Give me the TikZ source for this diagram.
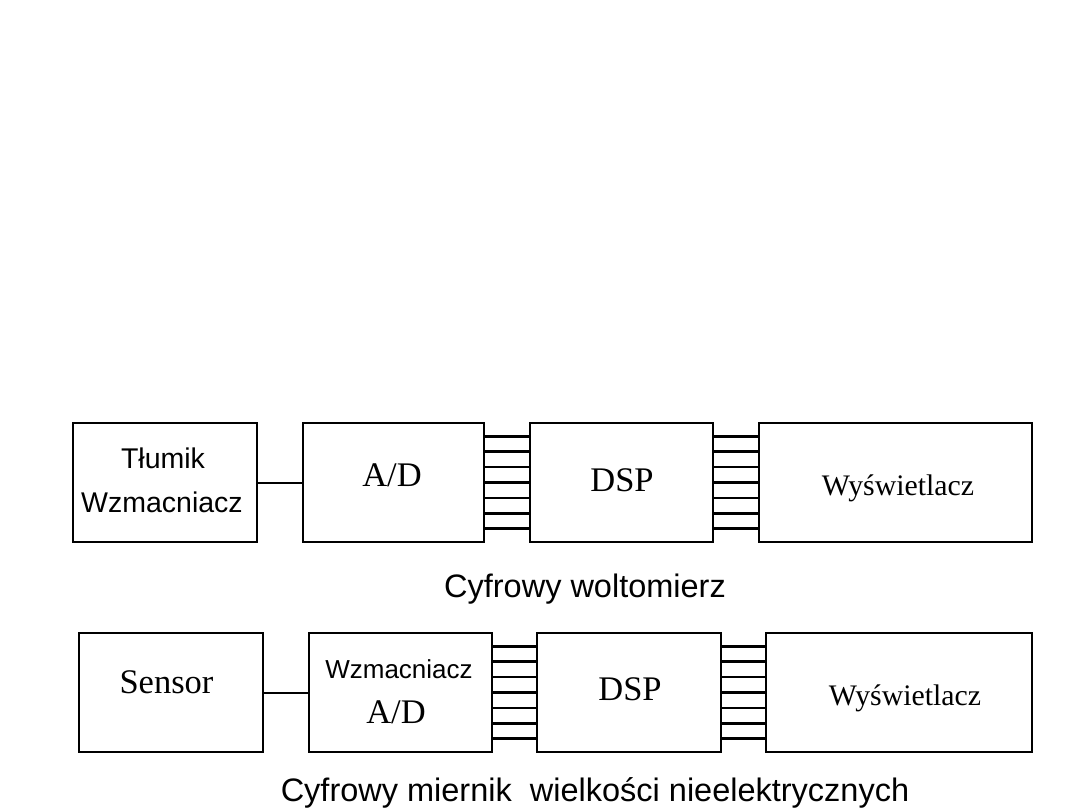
\documentclass[tikz,border=0pt]{standalone}
\usepackage{fontspec}
\setmainfont{Liberation Serif}
\newfontfamily\arial{Liberation Sans}
\begin{document}
\begin{tikzpicture}[x=1pt,y=-1pt,
  blk/.style={draw, line width=2.6pt, inner sep=0pt, minimum width=#1, minimum height=119pt},
  txt/.style={inner sep=0pt, anchor=base},
  sansA/.style={font=\arial\fontsize{28.5}{30}\selectfont},
  sansB/.style={font=\arial\fontsize{26}{28}\selectfont},
  serifL/.style={font=\fontsize{34.5}{36}\selectfont},
  serifM/.style={font=\fontsize{29.8}{31}\selectfont},
  capt/.style={font=\arial\fontsize{32.5}{34}\selectfont},
  bus/.style={line width=2.6pt},
  wire/.style={line width=2pt}]
\useasboundingbox (0,0) rectangle (1080,810);
% top row
\node[blk=184pt] (T1) at (165,482.5) {};
\node[blk=181pt] (AD1) at (393.5,482.5) {};
\node[blk=183pt] (DSP1) at (621.5,482.5) {};
\node[blk=273pt] (W1) at (895.5,482.5) {};
\draw[wire] (T1.east) -- (AD1.west);
\foreach \k in {-3,...,3}{
  \draw[bus] ([yshift=\k*15.4pt]AD1.east) -- ([yshift=\k*15.4pt]DSP1.west);
  \draw[bus] ([yshift=\k*15.4pt]DSP1.east) -- ([yshift=\k*15.4pt]W1.west);
}
\node[txt, sansA] (t1a) at (163,468) {Tłumik};
\node[txt, sansA] (t1b) at (162,512) {Wzmacniacz};
\node[txt, serifL] (t2) at (392,486) {A/D};
\node[txt, serifL] (t3) at (622,491) {DSP};
\node[txt, serifM] (t4) at (898,495) {Wyświetlacz};
\node[txt, capt] (c1) at (585,597) {Cyfrowy woltomierz};
% bottom row
\node[blk=184pt] (S2) at (171,692.5) {};
\node[blk=183pt] (AD2) at (400.5,692.5) {};
\node[blk=184pt] (DSP2) at (629,692.5) {};
\node[blk=266pt] (W2) at (899,692.5) {};
\draw[wire] (S2.east) -- (AD2.west);
\foreach \k in {-3,...,3}{
  \draw[bus] ([yshift=\k*15.4pt]AD2.east) -- ([yshift=\k*15.4pt]DSP2.west);
  \draw[bus] ([yshift=\k*15.4pt]DSP2.east) -- ([yshift=\k*15.4pt]W2.west);
}
\node[txt, serifL] (s1) at (166.5,693) {Sensor};
\node[txt, sansB] (s2a) at (399,678) {Wzmacniacz};
\node[txt, serifL] (s2b) at (396,723) {A/D};
\node[txt, serifL] (s3) at (630,700) {DSP};
\node[txt, serifM] (s4) at (905,705) {Wyświetlacz};
\node[txt, capt] (c2) at (595,801) {Cyfrowy miernik\ \ wielkości nieelektrycznych};
\end{tikzpicture}
\end{document}
